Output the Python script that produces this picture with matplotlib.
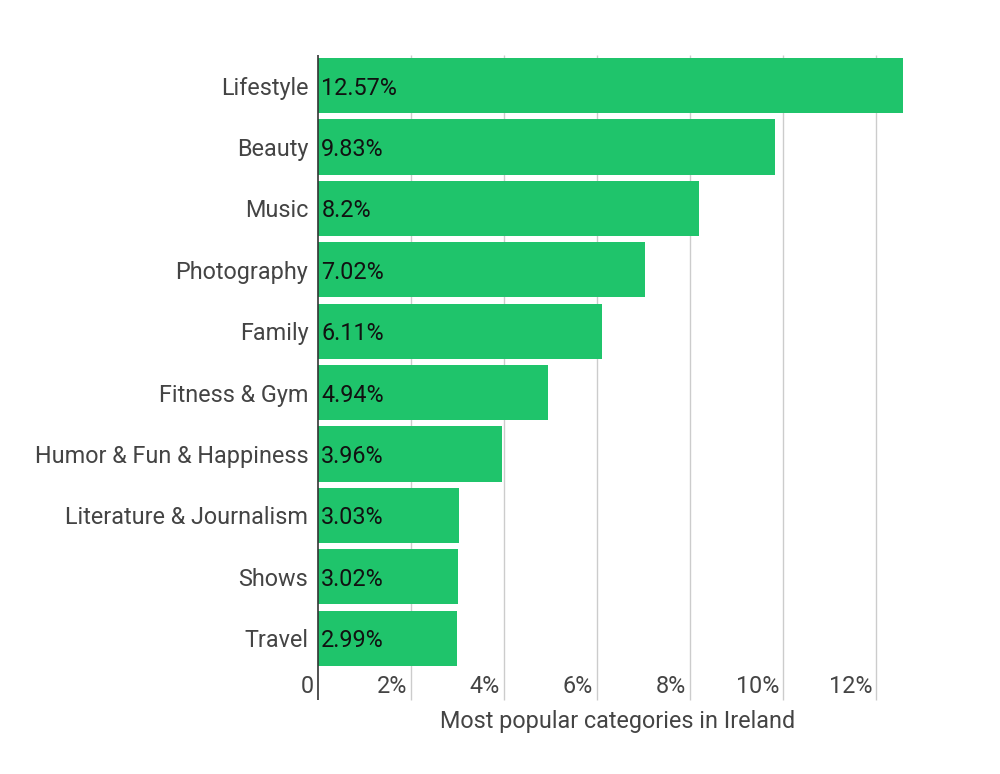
import matplotlib.pyplot as plt
import matplotlib.transforms as mtransforms
import numpy as np

# data
categories = ["Lifestyle", "Beauty", "Music", "Photography", "Family",
              "Fitness & Gym", "Humor & Fun & Happiness",
              "Literature & Journalism", "Shows", "Travel"]
values = [12.57, 9.83, 8.2, 7.02, 6.11, 4.94, 3.96, 3.03, 3.02, 2.99]
bar_labels = ["12.57%", "9.83%", "8.2%", "7.02%", "6.11%",
              "4.94%", "3.96%", "3.03%", "3.02%", "2.99%"]
xticks = [0, 2, 4, 6, 8, 10, 12]
xtick_labels = ["0", "2%", "4%", "6%", "8%", "10%", "12%"]

plt.rcParams['font.family'] = ['Roboto', 'DejaVu Sans']
fs = 16.8

fig = plt.figure(figsize=(10, 7.74), dpi=100)
ax = fig.add_axes([0.318, 0.1357, 0.6, 0.7933])

y = np.arange(len(categories))
ax.barh(y, values, height=0.9, color='#1fc46b', zorder=2)
for yi, v, lab in zip(y, values, bar_labels):
    ax.text(0.07, yi, lab, va='center_baseline', ha='left', fontsize=fs,
            color='#111111', zorder=3)

ax.set_xlim(0, 12.9)
ax.set_ylim(len(categories) - 0.5, -0.5)

# gridlines running down through the tick label area
ax.vlines(xticks[1:], -0.05, 1.0, transform=ax.get_xaxis_transform(),
          color='#cccccc', linewidth=1, clip_on=False, zorder=1)
ax.vlines([0], -0.05, 1.0, transform=ax.get_xaxis_transform(),
          color='#333333', linewidth=1.2, clip_on=False, zorder=4)

for s in ax.spines.values():
    s.set_visible(False)

ax.set_yticks(y)
ax.set_yticklabels(categories, fontsize=fs, color='#444444')
ax.tick_params(axis='y', length=0, pad=7)

ax.set_xticks(xticks)
ax.set_xticklabels(xtick_labels, fontsize=fs, color='#444444', ha='right')
ax.tick_params(axis='x', length=0, pad=4)
shift = mtransforms.ScaledTranslation(-4 / 100, 0, fig.dpi_scale_trans)
for t in ax.get_xticklabels():
    t.set_transform(t.get_transform() + shift)

ax.set_xlabel("Most popular categories in Ireland", fontsize=fs,
              color='#444444', labelpad=9)

fig.savefig("out.png", dpi=100)
